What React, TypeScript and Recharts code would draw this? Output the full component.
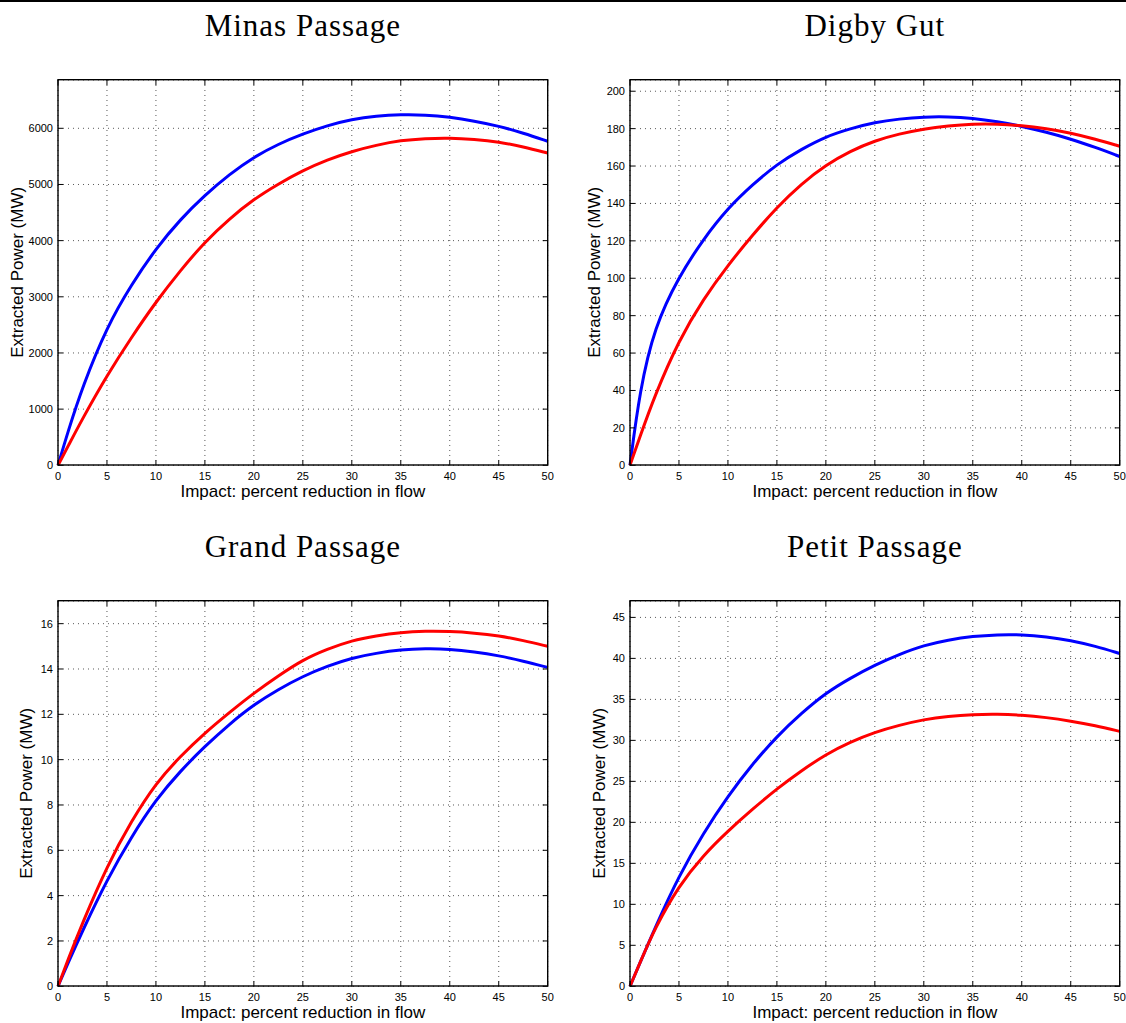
import React from "react";
import { LineChart, Line, XAxis, YAxis, CartesianGrid } from "recharts";

// percent reduction in flow (x) shared by every panel
const xs = [0, 1, 2.5, 5, 7.5, 10, 12.5, 15, 17.5, 20, 22.5, 25, 27.5, 30, 32.5, 35, 37.5, 40, 42.5, 45, 47.5, 50];
const xTicks = [0, 5, 10, 15, 20, 25, 30, 35, 40, 45, 50];

const minasBlue = [0, 590, 1400, 2470, 3220, 3860, 4380, 4810, 5180, 5490, 5720, 5900, 6050, 6160, 6220, 6245, 6240, 6200, 6130, 6040, 5915, 5770];
const minasRed = [0, 330, 830, 1600, 2280, 2910, 3470, 3980, 4390, 4740, 5010, 5250, 5440, 5590, 5700, 5785, 5820, 5830, 5805, 5760, 5670, 5560];
const minasTicks = [0, 1000, 2000, 3000, 4000, 5000, 6000];

const digbyBlue = [0, 40, 74, 101, 121, 137.5, 150, 161, 169, 175.8, 180, 183.4, 185.2, 186.3, 186.4, 185.6, 183.8, 181.3, 178.1, 174.5, 170, 165.1];
const digbyRed = [0, 15, 37, 67, 89, 107, 123, 138, 150.5, 160.6, 168, 173.6, 177.2, 179.9, 181.5, 182.5, 182.5, 181.7, 180, 177.7, 174.4, 170.6];
const digbyTicks = [0, 20, 40, 60, 80, 100, 120, 140, 160, 180, 200];

const grandBlue = [0, 1.0, 2.45, 4.7, 6.6, 8.24, 9.5, 10.59, 11.57, 12.43, 13.1, 13.68, 14.13, 14.49, 14.7, 14.85, 14.9, 14.88, 14.76, 14.59, 14.35, 14.07];
const grandRed = [0, 1.15, 2.8, 5.3, 7.3, 8.97, 10.15, 11.18, 12.08, 12.94, 13.7, 14.41, 14.88, 15.26, 15.47, 15.62, 15.67, 15.66, 15.59, 15.47, 15.26, 15.0];
const grandTicks = [0, 2, 4, 6, 8, 10, 12, 14, 16];

const petitBlue = [0, 2.8, 7.0, 13.5, 18.7, 23.2, 27.1, 30.5, 33.3, 35.8, 37.6, 39.2, 40.5, 41.6, 42.25, 42.7, 42.9, 42.9, 42.65, 42.2, 41.5, 40.6];
const petitRed = [0, 2.8, 7.0, 12.3, 16.0, 18.95, 21.6, 24.1, 26.3, 28.3, 29.8, 31.0, 31.85, 32.55, 32.95, 33.16, 33.2, 33.1, 32.8, 32.35, 31.8, 31.1];
const petitTicks = [0, 5, 10, 15, 20, 25, 30, 35, 40, 45];

const SANS = "'Liberation Sans', Arial, Helvetica, sans-serif";
const SERIF = "'Liberation Serif', 'Times New Roman', serif";

const PW = 489.7;
const PH = 385.3;
const PAD_L = 70, PAD_T = 10, PAD_R = 10, PAD_B = 40;

const panels = [
  { title: "Minas Passage", blue: minasBlue, red: minasRed, yMax: 6860, ticks: minasTicks, left: 58, top: 79.7, labelX: 18 },
  { title: "Digby Gut", blue: digbyBlue, red: digbyRed, yMax: 206, ticks: digbyTicks, left: 630, top: 79.7, labelX: 595 },
  { title: "Grand Passage", blue: grandBlue, red: grandRed, yMax: 17, ticks: grandTicks, left: 58, top: 600.7, labelX: 26.5 },
  { title: "Petit Passage", blue: petitBlue, red: petitRed, yMax: 47, ticks: petitTicks, left: 630, top: 600.7, labelX: 600 },
];

function XTick({ x, payload }: any) {
  const bottom = PAD_T + PH;
  return (
    <g>
      <line x1={x} x2={x} y1={bottom} y2={bottom - 5} stroke="#000" strokeWidth={1} />
      <line x1={x} x2={x} y1={PAD_T} y2={PAD_T + 5} stroke="#000" strokeWidth={1} />
      <text x={x} y={bottom + 15} textAnchor="middle" fontSize={11} fontFamily={SANS} fill="#000">
        {payload.value}
      </text>
    </g>
  );
}

function YTick({ y, payload }: any) {
  return (
    <g>
      <line x1={PAD_L} x2={PAD_L + 5} y1={y} y2={y} stroke="#000" strokeWidth={1} />
      <line x1={PAD_L + PW - 5} x2={PAD_L + PW} y1={y} y2={y} stroke="#000" strokeWidth={1} />
      <text x={PAD_L - 5} y={y + 4} textAnchor="end" fontSize={11} fontFamily={SANS} fill="#000">
        {payload.value}
      </text>
    </g>
  );
}

function Panel({ p }: any) {
  const data = xs.map((x, i) => ({ x, blue: p.blue[i], red: p.red[i] }));
  return (
    <div style={{ position: "absolute", left: p.left - PAD_L, top: p.top - PAD_T }}>
      <LineChart
        width={PW + PAD_L + PAD_R}
        height={PH + PAD_T + PAD_B}
        data={data}
        margin={{ top: PAD_T, right: PAD_R, left: 0, bottom: 0 }}
      >
        <CartesianGrid stroke="#555" strokeDasharray="1 4" strokeWidth={1} />
        <XAxis
          dataKey="x"
          type="number"
          domain={[0, 50]}
          ticks={xTicks}
          interval={0}
          height={PAD_B}
          axisLine={false}
          tickLine={false}
          tickSize={0}
          tick={<XTick />}
        />
        <YAxis
          type="number"
          domain={[0, p.yMax]}
          ticks={p.ticks}
          interval={0}
          width={PAD_L}
          allowDataOverflow
          axisLine={false}
          tickLine={false}
          tickSize={0}
          tick={<YTick />}
        />
        <Line dataKey="blue" type="basis" stroke="#0000ff" strokeWidth={3} dot={false} isAnimationActive={false} />
        <Line dataKey="red" type="basis" stroke="#ff0000" strokeWidth={3} dot={false} isAnimationActive={false} />
      </LineChart>
    </div>
  );
}

export default function App() {
  return (
    <div style={{ position: "absolute", left: 0, top: 0, width: 1126, height: 1023, background: "#fff", overflow: "hidden" }}>
      <div style={{ position: "absolute", left: 0, top: 0, width: 1126, height: 2, background: "#000" }} />
      {panels.map((p) => (
        <Panel key={p.title} p={p} />
      ))}
      <svg width={1126} height={1023} style={{ position: "absolute", left: 0, top: 0, pointerEvents: "none" }}>
        {panels.map((p) => {
          const cx = p.left + PW / 2;
          const cy = p.top + PH / 2;
          return (
            <g key={p.title}>
              <rect x={p.left} y={p.top} width={PW} height={PH} fill="none" stroke="#000" strokeWidth={1.4} />
              <text x={cx} y={p.top - 44} textAnchor="middle" fontSize={31} letterSpacing={1} fontFamily={SERIF} fill="#000">
                {p.title}
              </text>
              <text x={cx} y={p.top + PH + 32} textAnchor="middle" fontSize={17} fontFamily={SANS} fill="#000">
                Impact: percent reduction in flow
              </text>
              <text
                x={p.labelX}
                y={cy}
                textAnchor="middle"
                dominantBaseline="central"
                fontSize={17}
                fontFamily={SANS}
                fill="#000"
                transform={`rotate(-90 ${p.labelX} ${cy})`}
              >
                Extracted Power (MW)
              </text>
            </g>
          );
        })}
      </svg>
    </div>
  );
}
